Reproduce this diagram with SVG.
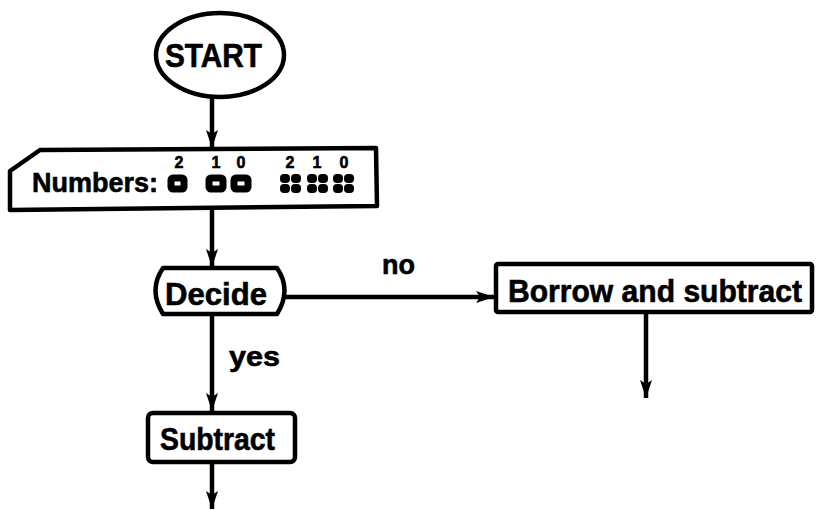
<svg xmlns="http://www.w3.org/2000/svg" width="818" height="510" viewBox="0 0 818 510">
<defs>
<style>
.shape{fill:#fff;stroke:#000;stroke-width:4.5;stroke-linejoin:round}
.t{font-family:"Liberation Sans",Arial,sans-serif;font-weight:bold;fill:#000;stroke:#000;stroke-width:0.6}
.con{stroke:#000;stroke-width:4.5;fill:none}
.sq{fill:#fff;stroke:#000;stroke-width:7}
</style>
<marker id="ah" markerUnits="userSpaceOnUse" markerWidth="20" markerHeight="14" refX="18" refY="6" orient="auto">
<path d="M0,0 L18,6 L0,12 L4,6 Z" fill="#000"/>
</marker>
<g id="blobsq">
<rect x="0" y="0" width="10" height="9" rx="4" fill="#000"/>
<rect x="11" y="0" width="10" height="9" rx="4" fill="#000"/>
<rect x="0" y="10" width="10" height="9" rx="4" fill="#000"/>
<rect x="11" y="10" width="10" height="9" rx="4" fill="#000"/>
</g>
</defs>
<g id="connectors">
<line class="con" x1="212" y1="97" x2="212" y2="148" marker-end="url(#ah)"/>
<line class="con" x1="212" y1="210" x2="212" y2="267" marker-end="url(#ah)"/>
<line class="con" x1="285" y1="297" x2="494" y2="297" marker-end="url(#ah)"/>
<text class="t" x="382" y="274" font-size="27" textLength="33" lengthAdjust="spacingAndGlyphs">no</text>
<line class="con" x1="212" y1="313" x2="212" y2="411" marker-end="url(#ah)"/>
<text class="t" x="229" y="366" font-size="28" textLength="51" lengthAdjust="spacingAndGlyphs">yes</text>
<line class="con" x1="212" y1="462" x2="212" y2="509" marker-end="url(#ah)"/>
<line class="con" x1="646" y1="312" x2="646" y2="398" marker-end="url(#ah)"/>
</g>
<g id="start">
<ellipse class="shape" cx="220" cy="55" rx="64" ry="42"/>
<text class="t" x="165" y="67" font-size="33" textLength="97" lengthAdjust="spacingAndGlyphs">START</text>
</g>
<g id="numbers">
<path class="shape" d="M40,150 L376,148 L377,206 L10,210 L10,171 Z"/>
<text class="t" x="32" y="192" font-size="28" textLength="126" lengthAdjust="spacingAndGlyphs">Numbers:</text>
<g class="t" font-size="16" text-anchor="middle">
<text x="179" y="168">2</text><text x="216" y="168">1</text><text x="241" y="168">0</text>
<text x="290" y="168">2</text><text x="317" y="168">1</text><text x="344" y="168">0</text>
</g>
<rect class="sq" x="171" y="178" width="13" height="11" rx="2"/>
<rect class="sq" x="209" y="178" width="14" height="11" rx="2"/>
<rect class="sq" x="234" y="178" width="14" height="11" rx="2"/>
<use href="#blobsq" x="280" y="174"/>
<use href="#blobsq" x="307" y="174"/>
<use href="#blobsq" x="333" y="174"/>
</g>
<g id="decide">
<path class="shape" d="M163,268 L277,268 Q292,290 277,314 L163,314 Q148,290 163,268 Z"/>
<text class="t" x="165" y="305" font-size="31" textLength="102" lengthAdjust="spacingAndGlyphs">Decide</text>
</g>
<g id="borrow">
<rect class="shape" x="496" y="264" width="316" height="48" rx="2"/>
<text class="t" x="508" y="302" font-size="31" textLength="294" lengthAdjust="spacingAndGlyphs">Borrow and subtract</text>
</g>
<g id="subtract">
<rect class="shape" x="148" y="413" width="147" height="49" rx="5"/>
<text class="t" x="160" y="450" font-size="31" textLength="115" lengthAdjust="spacingAndGlyphs">Subtract</text>
</g>
</svg>
